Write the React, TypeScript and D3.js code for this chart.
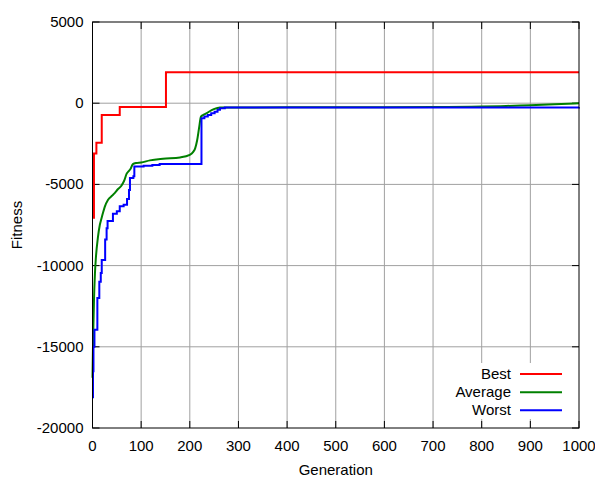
import * as d3 from 'd3';

// generation / fitness pairs
const bestSteps: [number, number][] = [
  [0, -7050], [3, -3100], [8, -2430], [19, -720], [56, -230], [151, 1900], [1000, 1900],
];

const averagePoints: [number, number][] = [
  [0, -16900], [1, -15000], [2, -13500], [3, -12200], [5, -10500], [7, -9500], [11, -8300],
  [15, -7500], [18, -7150], [22, -6700], [25, -6400], [32, -5950], [40, -5700], [46, -5520],
  [52, -5300], [59, -5100], [63, -4900], [66, -4700], [70, -4350], [74, -4200], [78, -4050],
  [83, -3750], [90, -3680], [100, -3650], [118, -3520], [145, -3420], [180, -3340], [200, -3180],
  [207, -3000], [211, -2780], [215, -2300], [219, -1540], [223, -830], [228, -720], [235, -610],
  [245, -420], [255, -310], [262, -260], [300, -260], [500, -250], [700, -240], [800, -210],
  [850, -170], [900, -120], [950, -70], [1000, 0],
];

const worstSteps: [number, number][] = [
  [0, -18100], [1, -16500], [2, -15000], [4, -13950], [10, -12000], [14, -11000], [17, -10450],
  [19, -9650], [26, -8400], [29, -7700], [31, -7250], [42, -6800], [50, -6650], [56, -6350],
  [64, -6250], [71, -5900], [75, -5350], [77, -4600], [84, -4500], [86, -3900], [105, -3850],
  [123, -3800], [138, -3740], [224, -920], [230, -820], [237, -720], [244, -620], [251, -520],
  [257, -400], [262, -310], [272, -270], [600, -260], [1000, -250],
];

const xTicks = d3.range(0, 1001, 100);
const yTicks = [-20000, -15000, -10000, -5000, 0, 5000];
const legendNames = ['Best', 'Average', 'Worst'];
const seriesColors = ['#ff0000', '#008000', '#0000ff'];

const W = 595;
const H = 478;
const margin = { top: 22, right: 16, bottom: 50, left: 92.5 };
const font = '"Liberation Sans", Arial, sans-serif';

export default function App() {
  const x = d3.scaleLinear().domain([0, 1000]).range([margin.left, W - margin.right]);
  const y = d3.scaleLinear().domain([-20000, 5000]).range([H - margin.bottom, margin.top]);
  const [x0, x1] = x.range();
  const [y0, y1] = y.range(); // y0 bottom, y1 top

  const stepLine = d3.line<[number, number]>()
    .x(d => x(d[0])).y(d => y(d[1]))
    .curve(d3.curveStepAfter);
  const smoothLine = d3.line<[number, number]>()
    .x(d => x(d[0])).y(d => y(d[1]))
    .curve(d3.curveMonotoneX);

  const paths = [stepLine(bestSteps), smoothLine(averagePoints), stepLine(worstSteps)];

  // legend
  const legendTextX = 511;
  const legendLine = [520, 562];
  const legendRowY = [374, 392.3, 410.3];

  return (
    <svg width={W} height={H} style={{ position: 'absolute', left: 0, top: 0, background: '#fff' }}
      fontFamily={font} fontSize={15}>
      {/* grid */}
      {xTicks.filter(t => t > 0 && t < 1000).map(t => (
        <line key={'gx' + t} x1={x(t)} x2={x(t)} y1={y1} y2={y0} stroke="#a0a0a0" strokeWidth={1} />
      ))}
      {yTicks.filter(t => t > -20000 && t < 5000).map(t => (
        <line key={'gy' + t} x1={x0} x2={x1} y1={y(t)} y2={y(t)} stroke="#a0a0a0" strokeWidth={1} />
      ))}
      {/* legend background hides grid */}
      <rect x={447} y={363} width={125} height={56} fill="#fff" />
      {/* ticks, mirrored */}
      {xTicks.map(t => (
        <g key={'tx' + t}>
          <line x1={x(t)} x2={x(t)} y1={y0} y2={y0 - 7} stroke="#000" />
          <line x1={x(t)} x2={x(t)} y1={y1} y2={y1 + 7} stroke="#000" />
          <text x={x(t)} y={y0 + 23} textAnchor="middle">{t}</text>
        </g>
      ))}
      {yTicks.map(t => (
        <g key={'ty' + t}>
          <line x1={x0} x2={x0 + 7} y1={y(t)} y2={y(t)} stroke="#000" />
          <line x1={x1} x2={x1 - 7} y1={y(t)} y2={y(t)} stroke="#000" />
          <text x={x0 - 9} y={y(t) + 5} textAnchor="end">{t}</text>
        </g>
      ))}
      {/* series */}
      {paths.map((p, i) => (
        <path key={'s' + i} d={p ?? ''} fill="none" stroke={seriesColors[i]} strokeWidth={2} />
      ))}
      {/* frame */}
      <rect x={x0} y={y1} width={x1 - x0} height={y0 - y1} fill="none" stroke="#000" strokeWidth={1} />
      {/* legend */}
      {legendNames.map((n, i) => (
        <g key={'lg' + n}>
          <text x={legendTextX} y={legendRowY[i] + 5} textAnchor="end">{n}</text>
          <line x1={legendLine[0]} x2={legendLine[1]} y1={legendRowY[i]} y2={legendRowY[i]}
            stroke={seriesColors[i]} strokeWidth={2} />
        </g>
      ))}
      {/* axis titles */}
      <text x={(x0 + x1) / 2} y={H - 3} textAnchor="middle">Generation</text>
      <text transform={`translate(22, ${(y0 + y1) / 2}) rotate(-90)`} textAnchor="middle">Fitness</text>
    </svg>
  );
}
